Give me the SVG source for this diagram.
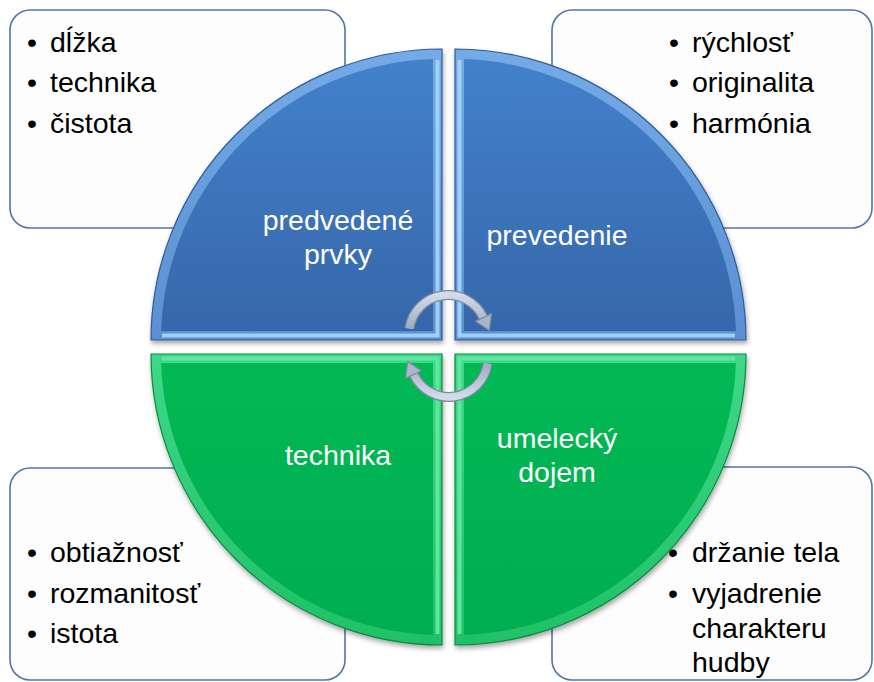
<svg xmlns="http://www.w3.org/2000/svg" width="874" height="682" viewBox="0 0 874 682">
<defs>
  <style>
    .box{fill:#fdfdfd;stroke:#4f76a8;stroke-width:1.6}
    .txt{font-family:"Liberation Sans",Arial,sans-serif;font-size:28.5px;fill:#000}
    .lbl{font-family:"Liberation Sans",Arial,sans-serif;font-size:28.5px;fill:#fff;text-anchor:middle}
    .bOut{fill:url(#blueBevel);stroke:#2d5c99;stroke-width:1.2}
    .bIn{fill:url(#blueMain)}
    .gOut{fill:url(#greenBevel);stroke:#0c8a3e;stroke-width:1.2}
    .gIn{fill:url(#greenMain)}
    .bEdge{stroke:#9fd0f6;stroke-width:4;fill:none}
    .gEdge{stroke:#5fe6a0;stroke-width:4;fill:none}
    .arrLine{fill:none;stroke:#7d8aa3;stroke-width:10}
    .arrFill{fill:none;stroke:url(#arrGrad);stroke-width:7.5}
    .arrHead{fill:#aab6ca;stroke:#7d8aa3;stroke-width:1.2;stroke-linejoin:round}
  </style>
  <linearGradient id="blueBevel" x1="0" y1="0" x2="0" y2="1">
    <stop offset="0" stop-color="#74abe6"/>
    <stop offset="1" stop-color="#5a8fd2"/>
  </linearGradient>
  <linearGradient id="blueMain" x1="0" y1="0" x2="0" y2="1">
    <stop offset="0" stop-color="#4381cb"/>
    <stop offset="1" stop-color="#3667aa"/>
  </linearGradient>
  <linearGradient id="greenBevel" x1="0" y1="0" x2="0" y2="1">
    <stop offset="0" stop-color="#3ed888"/>
    <stop offset="1" stop-color="#1fc166"/>
  </linearGradient>
  <linearGradient id="greenMain" x1="0" y1="0" x2="0" y2="1">
    <stop offset="0" stop-color="#02b855"/>
    <stop offset="1" stop-color="#00ae4f"/>
  </linearGradient>
  <linearGradient id="arrGrad" x1="0" y1="0" x2="0" y2="1">
    <stop offset="0" stop-color="#d3dbe8"/>
    <stop offset="1" stop-color="#9eabc2"/>
  </linearGradient>
  <filter id="sh" x="-10%" y="-10%" width="125%" height="125%">
    <feDropShadow dx="1" dy="3" stdDeviation="2.5" flood-color="#000" flood-opacity="0.35"/>
  </filter>
</defs>
<rect width="874" height="682" fill="#ffffff"/>

<g id="box-tl">
  <rect class="box" x="10" y="10" width="335" height="218" rx="20"/>
  <text class="txt"><tspan x="27" y="52">•</tspan><tspan x="50" y="52">dĺžka</tspan></text>
  <text class="txt"><tspan x="27" y="92">•</tspan><tspan x="50" y="92">technika</tspan></text>
  <text class="txt"><tspan x="27" y="133">•</tspan><tspan x="50" y="133">čistota</tspan></text>
</g>
<g id="box-tr">
  <rect class="box" x="552" y="10" width="320" height="218" rx="20"/>
  <text class="txt"><tspan x="669" y="52">•</tspan><tspan x="692" y="52">rýchlosť</tspan></text>
  <text class="txt"><tspan x="669" y="92">•</tspan><tspan x="692" y="92">originalita</tspan></text>
  <text class="txt"><tspan x="669" y="133">•</tspan><tspan x="692" y="133">harmónia</tspan></text>
</g>
<g id="box-bl">
  <rect class="box" x="10" y="468" width="335" height="212" rx="20"/>
  <text class="txt"><tspan x="27" y="562">•</tspan><tspan x="50" y="562">obtiažnosť</tspan></text>
  <text class="txt"><tspan x="27" y="603">•</tspan><tspan x="50" y="603">rozmanitosť</tspan></text>
  <text class="txt"><tspan x="27" y="643">•</tspan><tspan x="50" y="643">istota</tspan></text>
</g>
<g id="box-br">
  <rect class="box" x="552" y="467" width="320" height="213" rx="20"/>
  <text class="txt"><tspan x="668" y="562">•</tspan><tspan x="692" y="562">držanie tela</tspan></text>
  <text class="txt"><tspan x="668" y="603">•</tspan><tspan x="692" y="603">vyjadrenie</tspan></text>
  <text class="txt" x="692" y="638">charakteru</text>
  <text class="txt" x="692" y="672">hudby</text>
</g>

<g id="q-tl">
  <path class="bOut" filter="url(#sh)" d="M442 340 L151 340 A291 291 0 0 1 442 49 Z"/>
  <path class="bEdge" d="M437.5 60 L437.5 335.5 L162 335.5"/>
  <path class="bIn" d="M433 331 L161.1 331 A281 281 0 0 1 433 59.1 Z"/>
  <text class="lbl" x="338" y="230">predvedené</text>
  <text class="lbl" x="338" y="264">prvky</text>
</g>
<g id="q-tr">
  <path class="bOut" filter="url(#sh)" d="M455 340 L455 49 A291 291 0 0 1 746 340 Z"/>
  <path class="bEdge" d="M459.5 60 L459.5 335.5 L735 335.5"/>
  <path class="bIn" d="M464 331 L464 59.1 A281 281 0 0 1 735.9 331 Z"/>
  <text class="lbl" x="557" y="245">prevedenie</text>
</g>
<g id="q-bl">
  <path class="gOut" filter="url(#sh)" d="M442 354 L442 645 A291 291 0 0 1 151 354 Z"/>
  <path class="gEdge" d="M162 358.5 L437.5 358.5 L437.5 634"/>
  <path class="gIn" d="M433 363 L433 634.9 A281 281 0 0 1 161.1 363 Z"/>
  <text class="lbl" x="338" y="465">technika</text>
</g>
<g id="q-br">
  <path class="gOut" filter="url(#sh)" d="M455 354 L746 354 A291 291 0 0 1 455 645 Z"/>
  <path class="gEdge" d="M735 358.5 L459.5 358.5 L459.5 634"/>
  <path class="gIn" d="M464 363 L735.9 363 A281 281 0 0 1 464 634.9 Z"/>
  <text class="lbl" x="557" y="448">umelecký</text>
  <text class="lbl" x="557" y="482">dojem</text>
</g>

<g id="connectors">
  <g id="arrow-top">
    <path class="arrLine" d="M409.4 328.6 A39 39 0 0 1 483.3 317.5"/>
    <path class="arrFill" d="M409.4 328.6 A39 39 0 0 1 483.3 317.5"/>
    <polygon class="arrHead" points="491.5,313.6 475.6,321.3 489.3,330.5"/>
  </g>
  <g id="arrow-bottom" transform="rotate(180 448.5 346)">
    <path class="arrLine" d="M409.4 328.6 A39 39 0 0 1 483.3 317.5"/>
    <path class="arrFill" d="M409.4 328.6 A39 39 0 0 1 483.3 317.5"/>
    <polygon class="arrHead" points="491.5,313.6 475.6,321.3 489.3,330.5"/>
  </g>
</g>
</svg>
